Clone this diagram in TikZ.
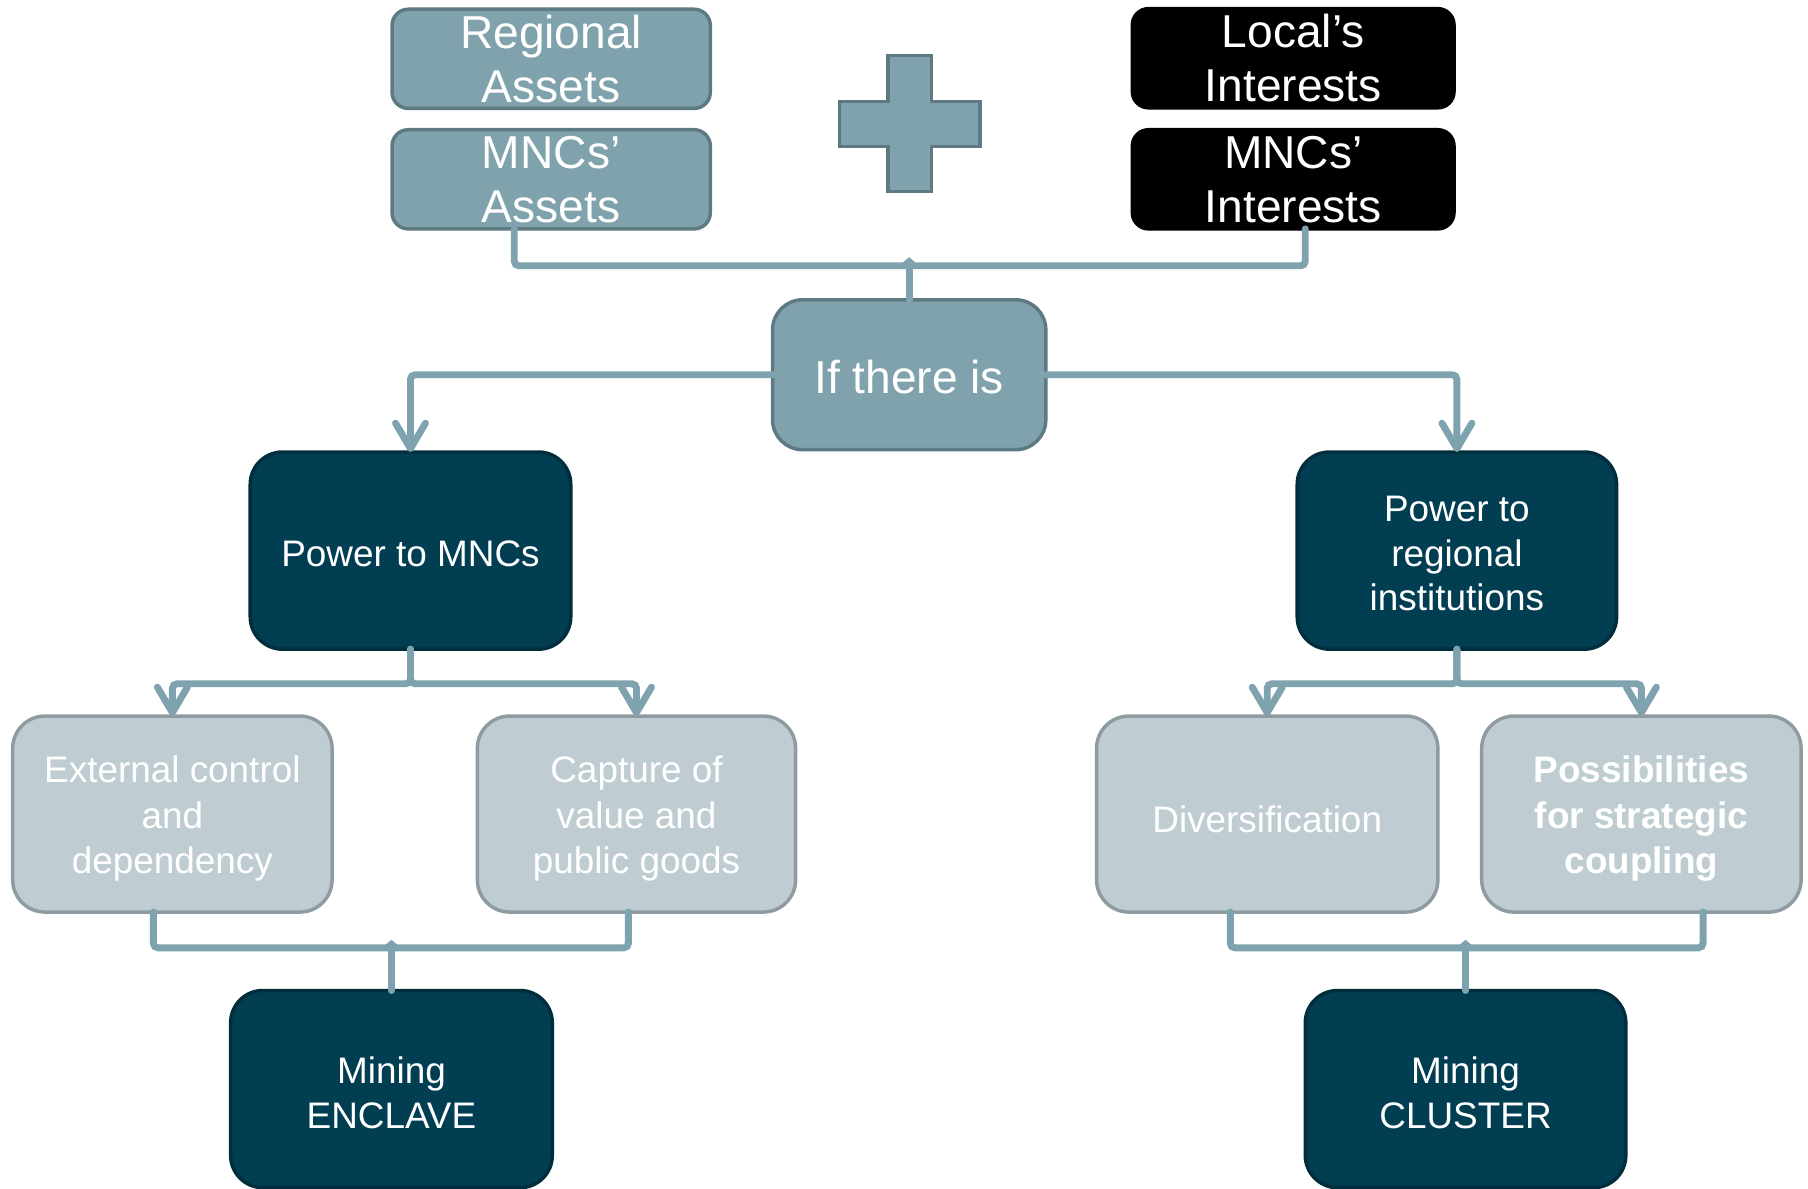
\documentclass[tikz,border=0pt]{standalone}
\usepackage{fontspec}
\setmainfont{Liberation Sans}
\usetikzlibrary{arrows.meta,calc}
\definecolor{midfill}{HTML}{7FA2AC}
\definecolor{midline}{HTML}{5D7A83}
\definecolor{darkfill}{HTML}{023E52}
\definecolor{darkline}{HTML}{012E3C}
\definecolor{lightfill}{HTML}{BFCDD3}
\definecolor{lightline}{HTML}{8E9BA1}
\definecolor{conncol}{HTML}{7FA3AE}
\newcommand\mystrut[1]{\rule{0pt}{#1}}
\begin{document}
\begin{tikzpicture}[x=1pt,y=-1pt,
  basebox/.style={align=center,inner sep=0pt,outer sep=0pt,text=white,line width=3pt},
  topbox/.style={basebox,rounded corners=14pt,minimum height=86pt,
     font=\fontsize{40}{47}\selectfont},
  assetbox/.style={topbox,fill=midfill,draw=midline,minimum width=276pt},
  intbox/.style={topbox,fill=black,draw=black,minimum width=279pt},
  ifbox/.style={basebox,rounded corners=26pt,fill=midfill,draw=midline,
     minimum width=237pt,minimum height=130pt,font=\fontsize{40}{47}\selectfont},
  darkbox/.style={basebox,rounded corners=28pt,fill=darkfill,draw=darkline,
     minimum width=278pt,minimum height=171pt,font=\fontsize{32}{38.5}\selectfont},
  lightbox/.style={basebox,rounded corners=28pt,fill=lightfill,draw=lightline,
     minimum width=277pt,minimum height=170pt,font=\fontsize{32}{39.5}\selectfont},
  conn/.style={draw=conncol,line width=6pt,rounded corners=4pt,line cap=round},
  arr/.style={conn,-{Straight Barb[length=22pt,width=26pt,round]}},
  cusp/.style={fill=conncol}
]
\useasboundingbox (0,0) rectangle (1568,1031);

% top row
\node[assetbox] (ra) at (478,51) {Regional\\Assets};
\node[assetbox] (ma) at (478,155.5) {MNCs’\\Assets};
\node[intbox] (li) at (1121.5,50.5) {Local’s\\Interests};
\node[intbox] (mi) at (1121.5,155.5) {MNCs’\\Interests};

% plus sign
\filldraw[fill=midfill,draw=midline,line width=3pt]
  (770,48) -- (808,48) -- (808,88) -- (850,88) -- (850,127) -- (808,127)
  -- (808,166) -- (770,166) -- (770,127) -- (728,127) -- (728,88) -- (770,88) -- cycle;

% middle
\node[ifbox] (it) at (788.5,325) {\mystrut{33.5pt}If there is};
\node[darkbox] (pm) at (356,477.5) {\mystrut{27.5pt}Power to MNCs};
\node[darkbox,minimum width=277pt] (pr) at (1263.5,477.5) {\mystrut{27.5pt}Power to\\regional\\institutions};

% gray row
\node[lightbox] (ec) at (149.5,706) {\mystrut{31.5pt}External control\\and\\dependency};
\node[lightbox,minimum width=276pt] (cv) at (552,706) {\mystrut{31.5pt}Capture of\\value and\\public goods};
\node[lightbox,minimum width=296pt] (dv) at (1099,706) {\mystrut{31.5pt}Diversification};
\node[lightbox] (ps) at (1423.5,706) {\bfseries\mystrut{31.5pt}Possibilities\\\bfseries for strategic\\\bfseries coupling};

% bottom
\node[darkbox,minimum width=279pt] (me) at (339.5,944.5) {\mystrut{29.5pt}Mining\\ENCLAVE};
\node[darkbox] (mc) at (1271,944.5) {\mystrut{29.5pt}Mining\\CLUSTER};

% connectors: top bracket
\draw[conn] ([xshift=-32pt]ma.south) -- ++(0,32) -| ([xshift=10.5pt]mi.south);
\draw[conn] (it.north) -- ++(0,-30);
\fill[cusp] ($(it.north)+(-7,-31)$) -- ($(it.north)+(0,-37)$) -- ($(it.north)+(7,-31)$) -- cycle;

% from If there is
\draw[arr] (it.west) -| (pm.north);
\draw[arr] (it.east) -| (pr.north);

% branches
\draw[arr] (pm.south) -- ++(0,30) -| (ec.north);
\draw[arr] (pm.south) -- ++(0,30) -| (cv.north);
\draw[arr] (pr.south) -- ++(0,30) -| (dv.north);
\draw[arr] (pr.south) -- ++(0,30) -| (ps.north);

% bottom brackets
\draw[conn] ([xshift=-16.5pt]ec.south) -- ++(0,31) -| ([xshift=-7pt]cv.south);
\draw[conn] (me.north) -- ++(0,-37);
\fill[cusp] ($(me.north)+(-7,-38)$) -- ($(me.north)+(0,-44)$) -- ($(me.north)+(7,-38)$) -- cycle;
\draw[conn] ([xshift=-32pt]dv.south) -- ++(0,31) -| ([xshift=53.5pt]ps.south);
\draw[conn] (mc.north) -- ++(0,-37);
\fill[cusp] ($(mc.north)+(-7,-38)$) -- ($(mc.north)+(0,-44)$) -- ($(mc.north)+(7,-38)$) -- cycle;
\end{tikzpicture}
\end{document}
